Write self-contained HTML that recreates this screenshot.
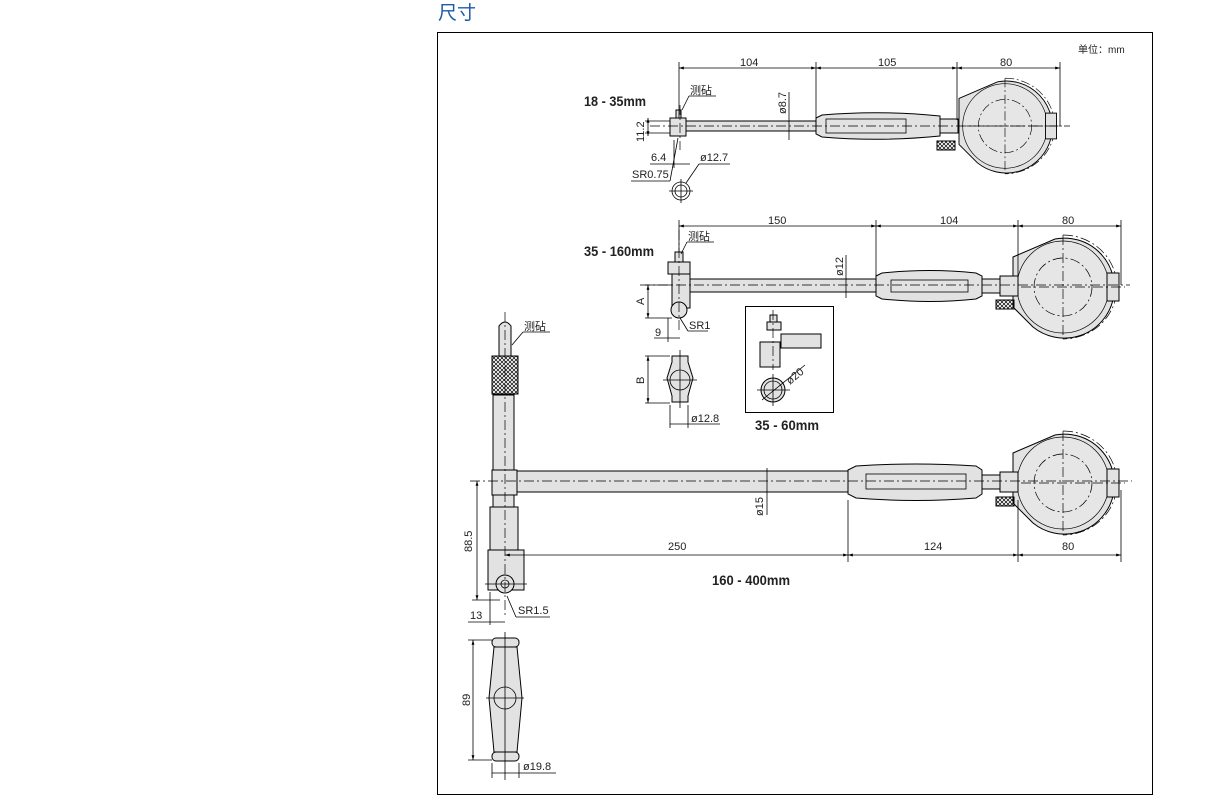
<!DOCTYPE html>
<html><head><meta charset="utf-8"><style>
html,body{margin:0;padding:0;background:#fff;width:1207px;height:811px;overflow:hidden}
svg{display:block}
text{font-family:"Liberation Sans","Noto Sans CJK SC",sans-serif;fill:#222}
.s{stroke:#000;stroke-width:1;fill:#e2e2e2}
.l{stroke:#000;stroke-width:0.8;fill:none}
.c{stroke:#000;stroke-width:0.7;fill:none;stroke-dasharray:10 3 2 3}
.d{font-size:11px}
.b{font-size:14px;font-weight:bold;font-family:"Liberation Sans Narrow","Liberation Sans",sans-serif}
</style></head><body>
<svg width="1207" height="811" viewBox="0 0 1207 811" xmlns="http://www.w3.org/2000/svg">
<defs>
<marker id="a" viewBox="0 0 10 10" refX="10" refY="5" markerWidth="6" markerHeight="6" orient="auto-start-reverse"><path d="M0,2 L10,5 L0,8z" fill="#000"/></marker>
<g id="dial">
 <path class="s" d="M-50,-30 L-8,-48 A50,50 0 1 1 -30,40 L-50,20 Z" fill="#e8e8e8"/>
 <circle cx="0" cy="0" r="46" fill="#e6e6e6" stroke="#000" stroke-width="0.7"/>
 <path class="c" d="M0,-52 A54,52 0 0 1 0,52"/>
 <circle class="c" cx="0" cy="0" r="29"/>
 <rect class="s" x="44" y="-14" width="12" height="28" fill="#f0f0f0"/>
 <line class="c" x1="-60" y1="0" x2="62" y2="0"/>
 <line class="c" x1="0" y1="-52" x2="0" y2="52"/>
</g>
<pattern id="k" width="4" height="4" patternUnits="userSpaceOnUse"><path d="M0,0L4,4M4,0L0,4" stroke="#000" stroke-width="0.7"/></pattern>
</defs>

<text x="438" y="19" style="font-size:19px;fill:#1f5aa8;font-family:'Noto Sans CJK SC',sans-serif">尺寸</text>
<rect x="437.5" y="32.5" width="715" height="762" fill="none" stroke="#000" stroke-width="1"/>
<text x="1078" y="53" class="d" style="font-size:10px">单位：mm</text>

<!-- ===== Gauge 1 18-35 ===== -->
<text x="584" y="106" class="b" textLength="62" lengthAdjust="spacingAndGlyphs">18 - 35mm</text>
<use href="#dial" transform="translate(1005,126) scale(0.92)"/>
<rect class="s" x="686" y="121" width="130" height="10"/>
<path class="s" d="M816,118 L822,115 Q880,110 940,116 L940,136 Q880,142 822,137 L816,134Z"/>
<rect class="l" x="826" y="119" width="80" height="14"/>
<rect class="s" x="940" y="119" width="18" height="14"/>
<rect x="937" y="141" width="18" height="9" fill="url(#k)" stroke="#000"/>
<rect class="s" x="670" y="118" width="16" height="18"/>
<rect class="s" x="676" y="110" width="5" height="8"/>
<line class="c" x1="650" y1="126" x2="1070" y2="126"/>
<line class="c" x1="680" y1="105" x2="680" y2="150"/>
<circle class="l" cx="681" cy="191" r="9"/><circle class="l" cx="681" cy="191" r="6"/>
<line class="l" x1="669" y1="191" x2="693" y2="191"/><line class="l" x1="681" y1="179" x2="681" y2="203"/>
<line class="l" x1="679" y1="62" x2="679" y2="118"/><line class="l" x1="816" y1="62" x2="816" y2="118"/>
<line class="l" x1="957" y1="62" x2="957" y2="120"/><line class="l" x1="1060" y1="62" x2="1060" y2="126"/>
<line class="l" x1="679" y1="68" x2="816" y2="68" marker-start="url(#a)" marker-end="url(#a)"/>
<line class="l" x1="816" y1="68" x2="957" y2="68" marker-start="url(#a)" marker-end="url(#a)"/>
<line class="l" x1="957" y1="68" x2="1060" y2="68" marker-start="url(#a)" marker-end="url(#a)"/>
<text x="740" y="66" class="d">104</text><text x="878" y="66" class="d">105</text><text x="1000" y="66" class="d">80</text>
<line class="l" x1="789" y1="92" x2="789" y2="140"/>
<text transform="translate(786,114) rotate(-90)" class="d">ø8.7</text>
<text x="690" y="94" class="d">测砧</text><line class="l" x1="689" y1="96" x2="716" y2="96"/><line class="l" x1="689" y1="96" x2="682" y2="110"/>
<line class="l" x1="645" y1="121" x2="670" y2="121"/><line class="l" x1="645" y1="133" x2="670" y2="133"/>
<line class="l" x1="648" y1="118" x2="648" y2="136" marker-start="url(#a)" marker-end="url(#a)"/>
<text transform="translate(644,142) rotate(-90)" class="d">11.2</text>
<text x="651" y="161" class="d">6.4</text><line class="l" x1="650" y1="164" x2="690" y2="164"/>
<line class="l" x1="674" y1="140" x2="674" y2="168"/>
<text x="632" y="178" class="d">SR0.75</text><line class="l" x1="631" y1="181" x2="670" y2="181"/><line class="l" x1="670" y1="181" x2="678" y2="138"/>
<text x="700" y="161" class="d">ø12.7</text><line class="l" x1="699" y1="164" x2="730" y2="164"/><line class="l" x1="699" y1="164" x2="686" y2="183"/>

<!-- ===== Gauge 2 35-160 ===== -->
<text x="584" y="256" class="b" textLength="70" lengthAdjust="spacingAndGlyphs">35 - 160mm</text>
<use href="#dial" transform="translate(1063,287)"/>
<rect class="s" x="690" y="279" width="186" height="13"/>
<path class="s" d="M876,276 L882,273 Q930,268 976,273 L982,276 L982,296 L976,299 Q930,304 882,299 L876,296Z"/>
<rect class="l" x="891" y="280" width="77" height="12"/>
<rect class="s" x="982" y="279" width="18" height="14"/>
<rect class="s" x="1000" y="276" width="18" height="20"/>
<rect x="996" y="300" width="18" height="9" fill="url(#k)" stroke="#000"/>
<rect class="s" x="668" y="262" width="22" height="12"/>
<rect class="s" x="672" y="274" width="18" height="34"/>
<rect class="s" x="675" y="252" width="8" height="10"/>
<circle class="s" cx="679" cy="310" r="8"/>
<line class="c" x1="640" y1="285" x2="1130" y2="285"/>
<line class="c" x1="679" y1="230" x2="679" y2="330"/>
<line class="l" x1="679" y1="220" x2="679" y2="252"/><line class="l" x1="876" y1="220" x2="876" y2="276"/>
<line class="l" x1="1018" y1="220" x2="1018" y2="276"/><line class="l" x1="1121" y1="220" x2="1121" y2="285"/>
<line class="l" x1="679" y1="226" x2="876" y2="226" marker-start="url(#a)" marker-end="url(#a)"/>
<line class="l" x1="876" y1="226" x2="1018" y2="226" marker-start="url(#a)" marker-end="url(#a)"/>
<line class="l" x1="1018" y1="226" x2="1121" y2="226" marker-start="url(#a)" marker-end="url(#a)"/>
<text x="768" y="224" class="d">150</text><text x="940" y="224" class="d">104</text><text x="1062" y="224" class="d">80</text>
<line class="l" x1="846" y1="255" x2="846" y2="298"/>
<text transform="translate(843,276) rotate(-90)" class="d">ø12</text>
<text x="688" y="240" class="d">测砧</text><line class="l" x1="687" y1="242" x2="714" y2="242"/><line class="l" x1="687" y1="242" x2="681" y2="254"/>
<line class="l" x1="645" y1="285" x2="672" y2="285"/><line class="l" x1="645" y1="318" x2="672" y2="318"/>
<line class="l" x1="648" y1="285" x2="648" y2="318" marker-start="url(#a)" marker-end="url(#a)"/>
<text transform="translate(644,305) rotate(-90)" class="d">A</text>
<text x="655" y="336" class="d">9</text><line class="l" x1="654" y1="338" x2="680" y2="338"/>
<line class="l" x1="668" y1="318" x2="668" y2="342"/>
<text x="689" y="329" class="d">SR1</text><line class="l" x1="688" y1="331" x2="708" y2="331"/><line class="l" x1="688" y1="331" x2="680" y2="318"/>
<!-- B view -->
<path class="s" d="M672,356 L688,356 L688,362 L693,378 L688,396 L688,402 L672,402 L672,396 L667,378 L672,362Z"/>
<circle class="l" cx="680" cy="380" r="10"/>
<line class="l" x1="663" y1="380" x2="697" y2="380"/><line class="l" x1="680" y1="350" x2="680" y2="408"/>
<line class="l" x1="645" y1="356" x2="670" y2="356"/><line class="l" x1="645" y1="403" x2="670" y2="403"/>
<line class="l" x1="648" y1="356" x2="648" y2="403" marker-start="url(#a)" marker-end="url(#a)"/>
<text transform="translate(644,384) rotate(-90)" class="d">B</text>
<line class="l" x1="670" y1="405" x2="670" y2="428"/><line class="l" x1="688" y1="405" x2="688" y2="428"/>
<line class="l" x1="670" y1="424" x2="720" y2="424"/>
<text x="691" y="422" class="d">ø12.8</text>
<!-- inset -->
<rect x="745.5" y="306.5" width="88" height="106" fill="#fff" stroke="#000"/>
<rect class="s" x="767" y="322" width="14" height="8"/>
<rect class="s" x="770" y="315" width="7" height="7"/>
<rect class="s" x="760" y="342" width="20" height="25"/>
<rect class="s" x="781" y="334" width="40" height="14"/>
<circle class="s" cx="773" cy="390" r="12"/><circle class="l" cx="773" cy="390" r="9"/>
<line class="l" x1="757" y1="390" x2="790" y2="390"/><line class="l" x1="773" y1="374" x2="773" y2="406"/>
<line class="c" x1="773" y1="310" x2="773" y2="370"/>
<line class="l" x1="762" y1="400" x2="805" y2="365"/>
<text transform="translate(790,385) rotate(-40)" class="d">ø20</text>
<text x="755" y="430" class="b" textLength="64" lengthAdjust="spacingAndGlyphs">35 - 60mm</text>

<!-- ===== Gauge 3 160-400 ===== -->
<use href="#dial" transform="translate(1063,483)"/>
<rect class="s" x="515" y="471" width="333" height="21"/>
<path class="s" d="M848,470 L856,466 Q915,462 976,466 L982,470 L982,494 L976,498 Q915,503 856,498 L848,494Z"/>
<rect class="l" x="866" y="474" width="100" height="15"/>
<rect class="s" x="982" y="475" width="18" height="14"/>
<rect class="s" x="1000" y="472" width="18" height="20"/>
<rect x="996" y="497" width="18" height="9" fill="url(#k)" stroke="#000"/>
<rect class="s" x="493" y="395" width="21" height="115"/>
<rect class="s" x="492" y="470" width="25" height="25"/>
<rect class="s" x="490" y="507" width="28" height="43"/>
<rect class="s" x="488" y="550" width="36" height="40"/>
<circle class="s" cx="505" cy="584" r="9"/><circle class="l" cx="505" cy="584" r="4"/>
<rect x="492" y="356" width="26" height="38" fill="url(#k)" stroke="#000"/>
<path class="s" d="M499,356 L499,326 Q505,318 511,326 L511,356Z"/>
<line class="c" x1="505" y1="312" x2="505" y2="618"/>
<line class="c" x1="470" y1="481" x2="1132" y2="481"/>
<line class="l" x1="485" y1="584" x2="527" y2="584"/>
<text x="524" y="330" class="d">测砧</text><line class="l" x1="523" y1="332" x2="550" y2="332"/><line class="l" x1="523" y1="332" x2="512" y2="345"/>
<line class="l" x1="767" y1="468" x2="767" y2="515"/>
<text transform="translate(763,516) rotate(-90)" class="d">ø15</text>
<line class="l" x1="848" y1="500" x2="848" y2="562"/><line class="l" x1="1018" y1="500" x2="1018" y2="562"/><line class="l" x1="1121" y1="490" x2="1121" y2="562"/>
<line class="l" x1="505" y1="555" x2="848" y2="555" marker-start="url(#a)" marker-end="url(#a)"/>
<line class="l" x1="848" y1="555" x2="1018" y2="555" marker-start="url(#a)" marker-end="url(#a)"/>
<line class="l" x1="1018" y1="555" x2="1121" y2="555" marker-start="url(#a)" marker-end="url(#a)"/>
<text x="668" y="550" class="d">250</text><text x="924" y="550" class="d">124</text><text x="1062" y="550" class="d">80</text>
<text x="712" y="585" class="b" textLength="78" lengthAdjust="spacingAndGlyphs">160 - 400mm</text>
<line class="l" x1="472" y1="600" x2="500" y2="600"/>
<line class="l" x1="477" y1="481" x2="477" y2="600" marker-start="url(#a)" marker-end="url(#a)"/>
<text transform="translate(472,552) rotate(-90)" class="d">88.5</text>
<line class="l" x1="490" y1="592" x2="490" y2="625"/>
<line class="l" x1="468" y1="622" x2="505" y2="622"/>
<text x="470" y="619" class="d">13</text>
<text x="518" y="614" class="d">SR1.5</text><line class="l" x1="516" y1="617" x2="550" y2="617"/><line class="l" x1="516" y1="617" x2="507" y2="596"/>
<!-- bottom view -->
<rect class="s" x="492" y="638" width="27" height="9" rx="4"/>
<path class="s" d="M494,647 L517,647 L522,698 L517,752 L494,752 L489,698Z"/>
<rect class="s" x="492" y="752" width="27" height="9" rx="4"/>
<circle class="l" cx="505" cy="698" r="11"/>
<line class="l" x1="486" y1="698" x2="524" y2="698"/><line class="l" x1="505" y1="632" x2="505" y2="780"/>
<line class="l" x1="468" y1="640" x2="492" y2="640"/><line class="l" x1="468" y1="760" x2="492" y2="760"/>
<line class="l" x1="473" y1="640" x2="473" y2="760" marker-start="url(#a)" marker-end="url(#a)"/>
<text transform="translate(470,706) rotate(-90)" class="d">89</text>
<line class="l" x1="492" y1="763" x2="492" y2="778"/><line class="l" x1="519" y1="763" x2="519" y2="778"/>
<line class="l" x1="492" y1="773" x2="556" y2="773"/>
<text x="523" y="770" class="d">ø19.8</text>
</svg>
</body></html>
